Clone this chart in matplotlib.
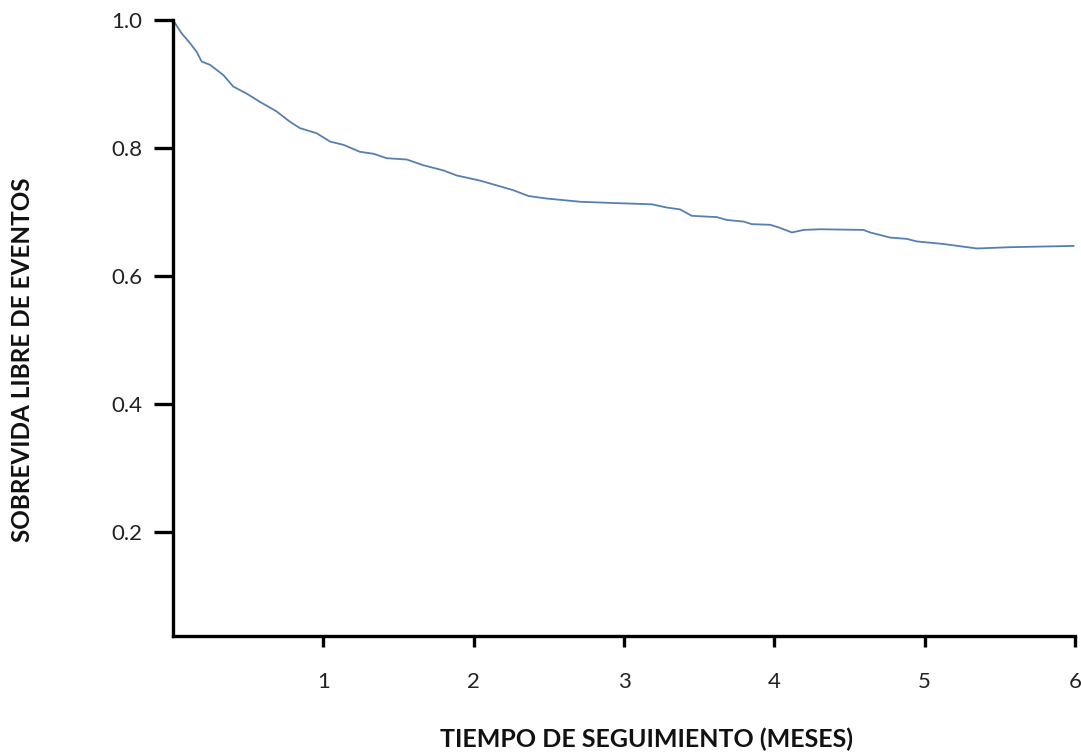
import matplotlib
matplotlib.use("Agg")
import matplotlib.pyplot as plt

# survival curve (months, event-free survival)
months = [0.0, 0.058, 0.113, 0.158, 0.191, 0.246, 0.335, 0.401, 0.49, 0.579,
          0.69, 0.778, 0.845, 0.956, 1.045, 1.133, 1.244, 1.333, 1.422, 1.555,
          1.666, 1.798, 1.888, 2.043, 2.176, 2.264, 2.364, 2.486, 2.708, 2.930,
          3.185, 3.284, 3.373, 3.451, 3.617, 3.684, 3.795, 3.85, 3.972, 4.028,
          4.117, 4.195, 4.305, 4.593, 4.637, 4.770, 4.881, 4.947, 5.124, 5.347,
          5.569, 5.990]
survival = [1.0, 0.979, 0.964, 0.950, 0.935, 0.930, 0.914, 0.896, 0.885, 0.872,
            0.857, 0.841, 0.831, 0.823, 0.810, 0.805, 0.794, 0.791, 0.784, 0.782,
            0.773, 0.765, 0.757, 0.749, 0.740, 0.734, 0.725, 0.721, 0.716, 0.714,
            0.712, 0.707, 0.704, 0.694, 0.692, 0.6875, 0.685, 0.681, 0.680, 0.676,
            0.668, 0.672, 0.673, 0.672, 0.668, 0.660, 0.658, 0.654, 0.650, 0.643,
            0.645, 0.647]

xticks = [1, 2, 3, 4, 5, 6]
yticks = [0.2, 0.4, 0.6, 0.8, 1.0]
ytick_labels = ["0.2", "0.4", "0.6", "0.8", "1.0"]

plt.rcParams['font.family'] = ['Lato', 'DejaVu Sans']

fig = plt.figure(figsize=(10.81, 7.54), dpi=100)
ax = fig.add_axes([0.160, 0.1565, 0.8345, 0.817])

ax.plot(months, survival, color='#5580b0', lw=1.3)

ax.set_xlim(0, 6)
ax.set_ylim(0.0375, 1.0)
ax.set_xticks(xticks)
ax.set_yticks(yticks)
ax.set_yticklabels(ytick_labels)

for s in ['top', 'right']:
    ax.spines[s].set_visible(False)
for s in ['left', 'bottom']:
    ax.spines[s].set_linewidth(2.4)
    ax.spines[s].set_color('black')

ax.tick_params(axis='y', direction='out', length=14, width=2.4, pad=8,
               labelsize=16, colors='black', labelcolor='#222222')
ax.tick_params(axis='x', direction='out', length=8, width=2.4, pad=18,
               labelsize=16, colors='black', labelcolor='#222222')

fig.text(0.598, 0.019, 'TIEMPO DE SEGUIMIENTO (MESES)', ha='center', va='center',
         fontsize=18, fontweight='bold', color='#111111')
fig.text(0.021, 0.523, 'SOBREVIDA LIBRE DE EVENTOS', ha='center', va='center',
         rotation=90, fontsize=17.5, fontweight='bold', color='#111111')

fig.savefig('out.png', dpi=100)
